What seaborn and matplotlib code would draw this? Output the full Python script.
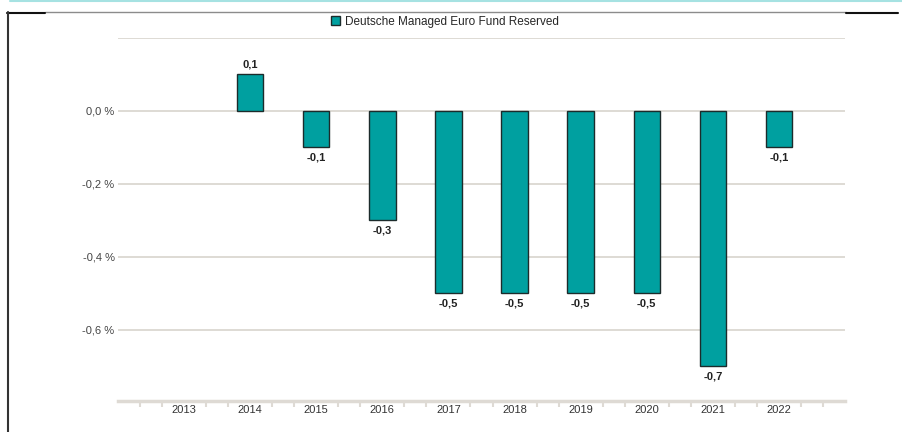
import numpy as np
import pandas as pd
import matplotlib
matplotlib.use("Agg")
import matplotlib.pyplot as plt
from matplotlib.lines import Line2D
from matplotlib.patches import Patch
import seaborn as sns

# Annual returns (%) per calendar year
years = ["2013", "2014", "2015", "2016", "2017", "2018", "2019", "2020", "2021", "2022"]
returns = [np.nan, 0.1, -0.1, -0.3, -0.5, -0.5, -0.5, -0.5, -0.7, -0.1]
series_name = "Deutsche Managed Euro Fund Reserved"
y_ticks = [0.2, 0.0, -0.2, -0.4, -0.6]
y_tick_labels = ["", "0,0 %", "-0,2 %", "-0,4 %", "-0,6 %"]

df = pd.DataFrame({"year": years, "value": returns})

sns.set_theme(style="white")
plt.rcParams["font.family"] = ["Liberation Sans", "DejaVu Sans"]

bar_color = "#00a0a0"
grid_color = "#dedad4"
text_color = "#444444"

fig = plt.figure(figsize=(9.03, 4.32), dpi=100)
ax = fig.add_axes([118 / 903, 1 - 401 / 432, 727 / 903, (401 - 38) / 432])

sns.barplot(data=df, x="year", y="value", color=bar_color, saturation=1,
            width=0.4, edgecolor="#1c2b2b", linewidth=1.0, ax=ax, zorder=3)

ax.set_xlim(-1, len(years))
ax.set_ylim(-0.795, 0.2)

# horizontal grid
ax.set_yticks(y_ticks)
ax.set_yticklabels(y_tick_labels)
for t in y_ticks:
    ax.axhline(t, color=grid_color, lw=1.4, zorder=1)
ax.tick_params(axis="y", length=0, pad=2.5, labelsize=8, labelcolor=text_color)

# x axis: labels at categories, small ticks between them
ax.set_xticks(range(len(years)))
ax.set_xticklabels(years)
minor = [i / 3 for i in range(-3, 3 * len(years) + 1) if i % 3 != 0]
ax.set_xticks(minor, minor=True)
ax.tick_params(axis="x", which="major", length=0, pad=3, labelsize=8, labelcolor="#333333")
ax.tick_params(axis="x", which="minor", length=4, width=1.5, color=grid_color, bottom=True)
ax.set_xlabel("")
ax.set_ylabel("")

for side in ["top", "right", "left"]:
    ax.spines[side].set_visible(False)
ax.spines["bottom"].set_color(grid_color)
ax.spines["bottom"].set_linewidth(2.5)

# value labels
for i, v in enumerate(returns):
    if np.isnan(v):
        continue
    label = f"{v:.1f}".replace(".", ",")
    off = 7.5 if v > 0 else -7
    ax.annotate(label, (i, v), xytext=(0, off), textcoords="offset points",
                ha="center", va="center", fontsize=8, fontweight="bold", color="#222222")

# legend
handle = Patch(facecolor=bar_color, edgecolor="#1c2b2b", linewidth=1.0)
fig.legend([handle], [series_name], loc="center", bbox_to_anchor=(445 / 903, 1 - 22 / 432),
           frameon=False, fontsize=8.5, handlelength=0.8, handleheight=0.8,
           handletextpad=0.4, borderpad=0)

# surrounding frame lines
W, H = 903, 432
def fline(x0, y0, x1, y1, color, lw):
    fig.add_artist(Line2D([x0 / W, x1 / W], [1 - y0 / H, 1 - y1 / H], color=color, lw=lw))

fline(10, 0.8, 903, 0.8, "#a6e2e2", 1.5)
fline(45, 12, 846, 12, "#8c8c8c", 1.0)
fline(7, 12.5, 45, 12.5, "#111111", 1.5)
fline(846, 13, 898, 13, "#111111", 1.5)
fline(7.5, 12, 7.5, 432, "#333333", 1.5)

fig.savefig("out.png", dpi=100)
